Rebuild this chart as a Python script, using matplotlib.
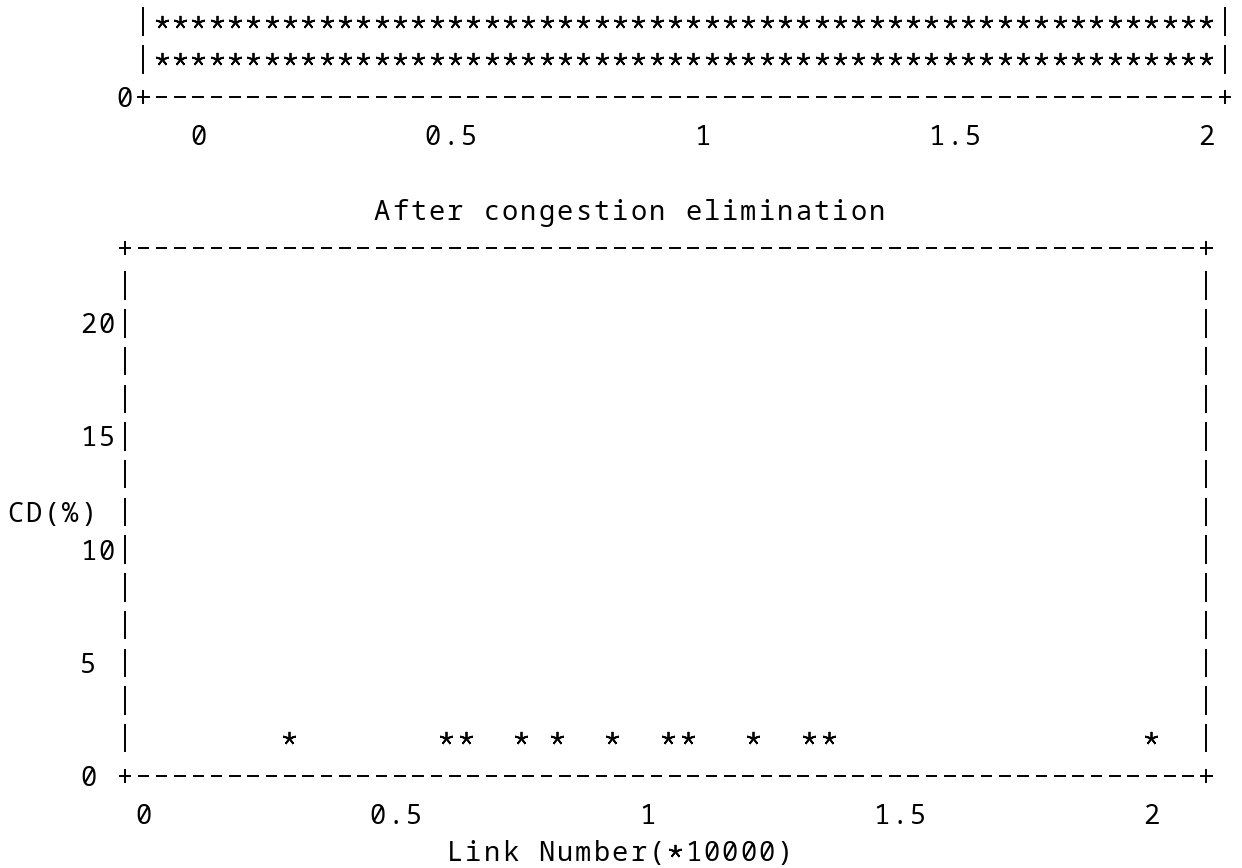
import matplotlib
matplotlib.use("Agg")
import matplotlib.pyplot as plt
from matplotlib import font_manager
from matplotlib.collections import LineCollection

# ---------------- data ----------------
LINK_AFTER = [0.29, 0.60, 0.64, 0.75, 0.82, 0.93, 1.04, 1.08, 1.21, 1.32, 1.36, 2.00]
CD_AFTER = [1.7, 1.7, 1.7, 1.7, 1.7, 1.7, 1.7, 1.7, 1.7, 1.7, 1.7, 1.7]
XTICKS = [0, 0.5, 1, 1.5, 2]
XTICK_LABELS = ["0", "0.5", "1", "1.5", "2"]
YTICKS_AFTER = [0, 5, 10, 15, 20]
YTICK_LABELS_AFTER = ["0 ", "5 ", "10", "15", "20"]
YTICKS_BEFORE = [0]
YTICK_LABELS_BEFORE = ["0"]
TITLE = "After congestion elimination"
XLABEL = "Link Number(*10000)"
YLABEL = "CD(%)"
# clipped upper panel: its last two visible rows are fully saturated with points
BEFORE_ROWS = ["*" * 58, "*" * 58]

# ---------------- character grid geometry ----------------
W, H = 1242, 868
PITCH = 18.33          # px per character column
X0 = 15.0              # centre of column 0
ROWH = 37.72           # px per text row
Y0 = 21.6              # centre of row 0 (from top)
FS = 19.5              # font size (pt)
CAP = 0.729 * FS * 100 / 72.0
LW = 1.4
STAR_MS = 9.5
STAR_MEW = 1.3


def cx(c):
    return X0 + c * PITCH


def cy(r):
    return Y0 + r * ROWH


def pick_font():
    for name in ["Noto Sans Mono", "Source Code Pro", "DejaVu Sans Mono"]:
        try:
            font_manager.findfont(name, fallback_to_default=False)
            return name
        except Exception:
            pass
    return "monospace"


FONT = pick_font()

fig = plt.figure(figsize=(W / 100, H / 100), dpi=100)
fig.patch.set_facecolor("white")
cv = fig.add_axes([0, 0, 1, 1])
cv.set_xlim(0, W)
cv.set_ylim(H, 0)
cv.axis("off")

segs = []
star_x, star_y = [], []


def put(x, y, ch):
    if ch == " ":
        return
    if ch == "*":
        star_x.append(x)
        star_y.append(y)
    elif ch == "-":
        segs.append([(x - 5.8, y), (x + 5.8, y)])
    elif ch == "|":
        segs.append([(x, y - 14.2), (x, y + 14.2)])
    elif ch == "+":
        segs.append([(x - 6.2, y), (x + 6.2, y)])
        segs.append([(x, y - 6.8), (x, y + 6.8)])
    else:
        cv.text(x, y + CAP / 2, ch, ha="center", va="baseline",
                fontfamily=FONT, fontsize=FS, color="black")


def put_string(x_first, y, s):
    for i, ch in enumerate(s):
        put(x_first + i * PITCH, y, ch)


def put_centered(xc, y, s):
    n = len(s)
    put_string(xc - (n - 1) / 2.0 * PITCH, y, s)


def to_canvas(ax, x, y):
    disp = ax.transData.transform((x, y))
    return cv.transData.inverted().transform(disp)


# ---------------- upper (clipped) panel ----------------
TL, TR = 7, 66            # frame columns
T_BOTTOM = 2              # frame row
T_X0COL, T_X2COL = 10, 65  # columns of x=0 and x=2
cols_per_unit_t = (T_X2COL - T_X0COL) / 2.0
ax_t = fig.add_axes([cx(TL) / W, (H - cy(T_BOTTOM)) / H,
                     (cx(TR) - cx(TL)) / W, cy(T_BOTTOM) / H])
ax_t.set_xlim((TL - T_X0COL) / cols_per_unit_t, (TR - T_X0COL) / cols_per_unit_t)
ax_t.set_ylim(0, cy(T_BOTTOM) / ROWH)
ax_t.axis("off")

for r, row in enumerate(BEFORE_ROWS):
    put(cx(TL), cy(r), "|")
    put_string(cx(TL + 1), cy(r), row)
    put(cx(TR), cy(r), "|")
put(cx(TL), cy(T_BOTTOM), "+")
put_string(cx(TL + 1), cy(T_BOTTOM), "-" * (TR - TL - 1))
put(cx(TR), cy(T_BOTTOM), "+")
for v, lab in zip(YTICKS_BEFORE, YTICK_LABELS_BEFORE):
    _, yy = to_canvas(ax_t, 0, v)
    put_string(cx(TL - len(lab)), yy, lab)
for t, lab in zip(XTICKS, XTICK_LABELS):
    xx, _ = to_canvas(ax_t, t, 0)
    put_centered(xx, cy(T_BOTTOM + 1), lab)

# ---------------- lower panel ----------------
BL, BR = 6, 65            # frame columns
B_TOP, B_BOTTOM = 6, 20   # frame rows
B_X0COL, B_X2COL = 7, 62
cols_per_unit_b = (B_X2COL - B_X0COL) / 2.0
rows_per_unit_b = 3 / 5.0
ax = fig.add_axes([cx(BL) / W, (H - cy(B_BOTTOM)) / H,
                   (cx(BR) - cx(BL)) / W, (cy(B_BOTTOM) - cy(B_TOP)) / H])
ax.set_xlim((BL - B_X0COL) / cols_per_unit_b, (BR - B_X0COL) / cols_per_unit_b)
ax.set_ylim(0, (B_BOTTOM - B_TOP) / rows_per_unit_b)
ax.axis("off")
ax.plot(LINK_AFTER, CD_AFTER, linestyle="none", marker=(5, 2, 0),
        markersize=STAR_MS, markeredgewidth=STAR_MEW, color="black", clip_on=False)

# frame
put(cx(BL), cy(B_TOP), "+")
put_string(cx(BL + 1), cy(B_TOP), "-" * (BR - BL - 1))
put(cx(BR), cy(B_TOP), "+")
for r in range(B_TOP + 1, B_BOTTOM):
    put(cx(BL), cy(r), "|")
    put(cx(BR), cy(r), "|")
put(cx(BL), cy(B_BOTTOM), "+")
put_string(cx(BL + 1), cy(B_BOTTOM), "-" * (BR - BL - 1))
put(cx(BR), cy(B_BOTTOM), "+")

# title and labels
put_string(cx(20), cy(B_TOP - 1), TITLE)
put_string(cx(0), cy(13), YLABEL)
put_string(cx(24), cy(B_BOTTOM + 2), XLABEL)

for v, lab in zip(YTICKS_AFTER, YTICK_LABELS_AFTER):
    _, yy = to_canvas(ax, 0, v)
    put_string(cx(BL - 2), yy, lab)
for t, lab in zip(XTICKS, XTICK_LABELS):
    xx, _ = to_canvas(ax, t, 0)
    put_centered(xx, cy(B_BOTTOM + 1), lab)

cv.add_collection(LineCollection(segs, colors="black", linewidths=LW, capstyle="butt"))
cv.plot(star_x, star_y, linestyle="none", marker=(5, 2, 0), markersize=STAR_MS,
        markeredgewidth=STAR_MEW, color="black")

fig.savefig("out.png", dpi=100, facecolor="white")
